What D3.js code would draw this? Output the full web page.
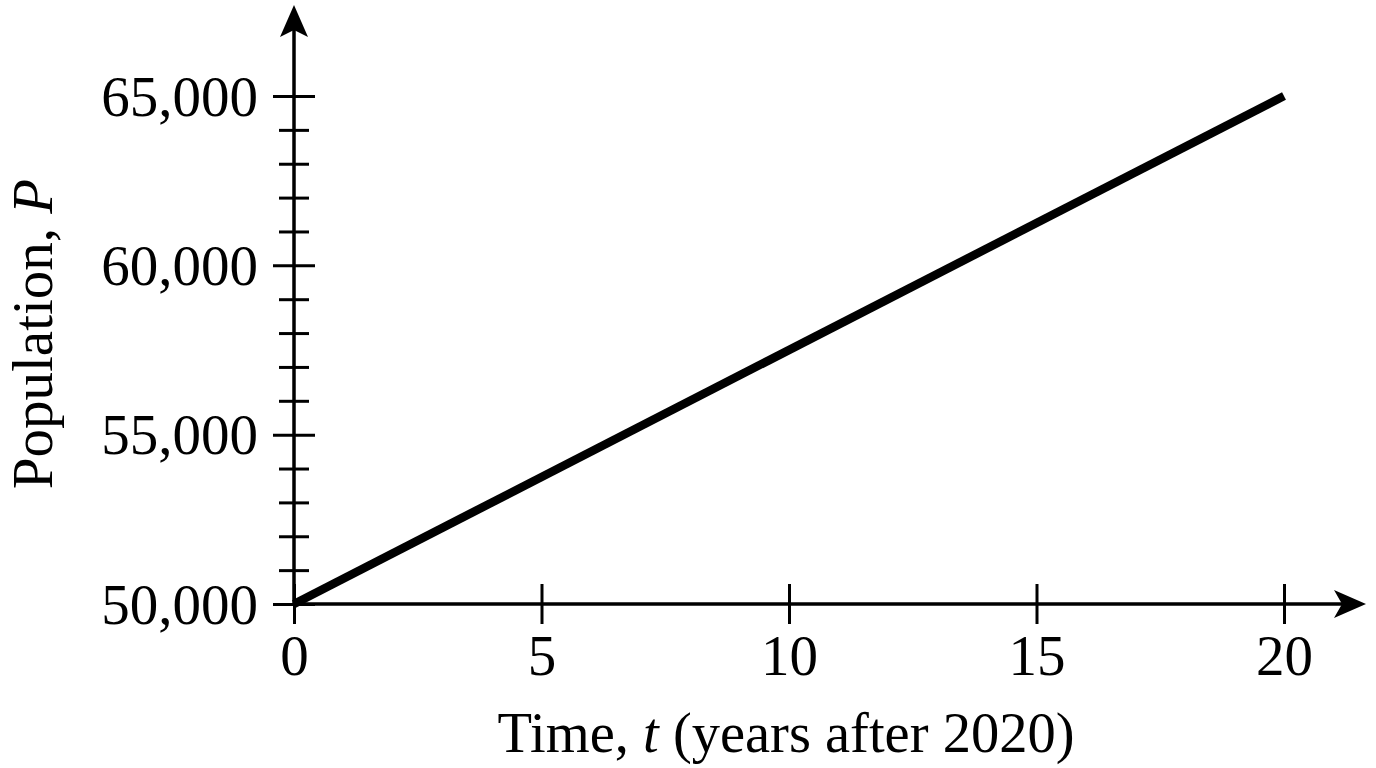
<!DOCTYPE html>
<html>
<head>
<meta charset="utf-8">
<script src="https://cdn.jsdelivr.net/npm/d3@7"></script>
<style>
  html, body { margin: 0; padding: 0; background: #fff; }
  svg { display: block; }
  text { font-family: "Liberation Serif", "Times New Roman", serif; fill: #000; }
</style>
</head>
<body>
<svg id="chart" width="1376" height="768"></svg>
<script>
// Data
const years = [0, 20];
const population = [50000, 65000];
const xTickValues = [0, 5, 10, 15, 20];
const xTickLabels = ["0", "5", "10", "15", "20"];
const yMajorTicks = [50000, 55000, 60000, 65000];
const yMajorLabels = ["50,000", "55,000", "60,000", "65,000"];
const yMinorTicks = [51000, 52000, 53000, 54000, 56000, 57000, 58000, 59000, 61000, 62000, 63000, 64000];
const xTitle = ["Time, ", "t", " (years after 2020)"];
const yTitle = ["Population, ", "P"];

const svg = d3.select("#chart");
const FS = 57;

const x = d3.scaleLinear().domain([0, 20]).range([294, 1284]);
const y = d3.scaleLinear().domain([50000, 65000]).range([604, 96]);

const y0 = y(50000), x0 = x(0);

// Axis lines
svg.append("line").attr("x1", x0).attr("x2", 1345).attr("y1", y0).attr("y2", y0)
  .attr("stroke", "#000").attr("stroke-width", 3.5);
svg.append("line").attr("x1", x0).attr("x2", x0).attr("y1", y0).attr("y2", 20)
  .attr("stroke", "#000").attr("stroke-width", 3.5);

// Arrowheads
svg.append("path")
  .attr("d", `M${x0},5 L${x0 + 14},37 L${x0},30 L${x0 - 14},37 Z`)
  .attr("fill", "#000");
svg.append("path")
  .attr("d", `M1366,${y0} L1334,${y0 - 14} L1342,${y0} L1334,${y0 + 14} Z`)
  .attr("fill", "#000");

// X axis
const xAxis = d3.axisBottom(x)
  .tickValues(xTickValues)
  .tickFormat((d, i) => xTickLabels[i])
  .tickSize(20);
const gx = svg.append("g").attr("transform", `translate(0,${y0})`).call(xAxis);
gx.select(".domain").remove();
gx.selectAll(".tick line").attr("y1", -20).attr("y2", 20)
  .attr("stroke", "#000").attr("stroke-width", 3);
gx.selectAll(".tick text").attr("y", 71).attr("dy", 0)
  .attr("font-size", FS).attr("font-family", "Liberation Serif, Times New Roman, serif")
  .attr("fill", "#000");

// Y axis major
const yAxis = d3.axisLeft(y)
  .tickValues(yMajorTicks)
  .tickFormat((d, i) => yMajorLabels[i])
  .tickSize(21);
const gy = svg.append("g").attr("transform", `translate(${x0},0)`).call(yAxis);
gy.select(".domain").remove();
gy.selectAll(".tick line").attr("x1", -21).attr("x2", 21)
  .attr("stroke", "#000").attr("stroke-width", 3);
gy.selectAll(".tick text").attr("x", -36).attr("dy", 0).attr("y", 19)
  .attr("font-size", FS).attr("font-family", "Liberation Serif, Times New Roman, serif")
  .attr("fill", "#000");

// Y axis minor
const yMinor = d3.axisLeft(y).tickValues(yMinorTicks).tickFormat("").tickSize(15);
const gym = svg.append("g").attr("transform", `translate(${x0},0)`).call(yMinor);
gym.select(".domain").remove();
gym.selectAll(".tick line").attr("x1", -15).attr("x2", 15)
  .attr("stroke", "#000").attr("stroke-width", 3);

// Data line
const line = d3.line().x((d, i) => x(years[i])).y(d => y(d));
svg.append("path")
  .datum(population)
  .attr("d", line)
  .attr("fill", "none")
  .attr("stroke", "#000")
  .attr("stroke-width", 8.5)
  .attr("stroke-linecap", "butt");

// X title
const xt = svg.append("text")
  .attr("x", 786)
  .attr("y", 752)
  .attr("text-anchor", "middle")
  .attr("font-size", 56.5);
xt.append("tspan").text(xTitle[0]);
xt.append("tspan").attr("font-style", "italic").text(xTitle[1]);
xt.append("tspan").text(xTitle[2]);

// Y title
const yt = svg.append("text")
  .attr("transform", "translate(52,334) rotate(-90)")
  .attr("text-anchor", "middle")
  .attr("font-size", 57);
yt.append("tspan").text(yTitle[0]);
yt.append("tspan").attr("font-style", "italic").text(yTitle[1]);
</script>
</body>
</html>
